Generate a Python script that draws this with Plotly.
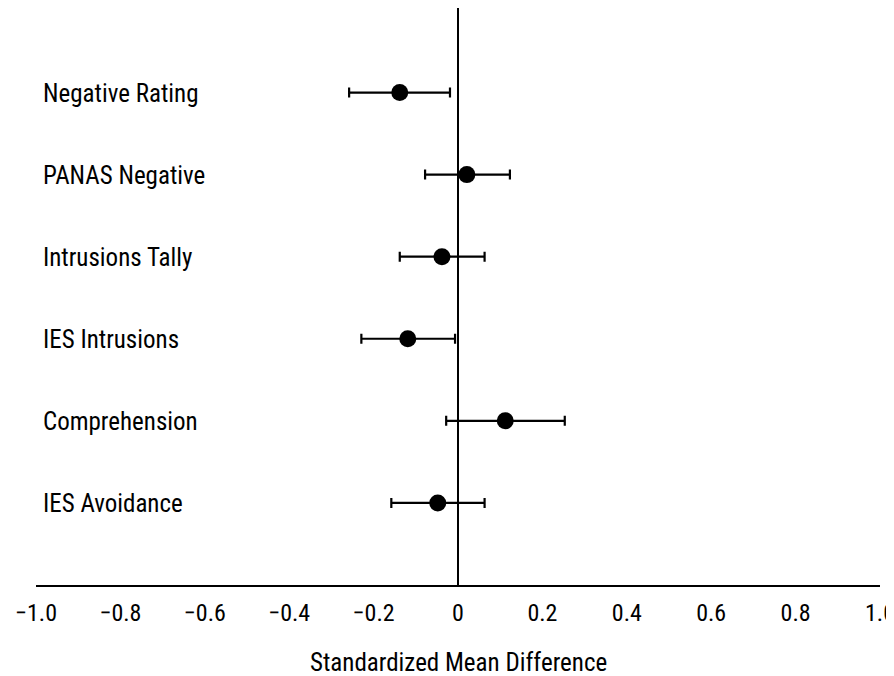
import plotly.graph_objects as go

measures = ["Negative Rating", "PANAS Negative", "Intrusions Tally",
            "IES Intrusions", "Comprehension", "IES Avoidance"]
row_pos = [6, 5, 4, 3, 2, 1]
smd = [-0.138, 0.021, -0.038, -0.119, 0.112, -0.048]
ci_low = [-0.258, -0.078, -0.138, -0.229, -0.028, -0.158]
ci_high = [-0.019, 0.123, 0.063, -0.007, 0.253, 0.063]

tick_vals = [-1.0, -0.8, -0.6, -0.4, -0.2, 0, 0.2, 0.4, 0.6, 0.8, 1.0]
tick_text = ["\u22121.0", "\u22120.8", "\u22120.6", "\u22120.4", "\u22120.2",
             "0", "0.2", "0.4", "0.6", "0.8", "1.0"]

FONT = "Liberation Sans Narrow, Arial Narrow, Roboto Condensed, sans-serif"

err_plus = [h - m for h, m in zip(ci_high, smd)]
err_minus = [m - l for m, l in zip(smd, ci_low)]

fig = go.Figure()
fig.add_trace(go.Scatter(
    x=smd, y=row_pos, mode="markers",
    marker=dict(color="black", size=17),
    error_x=dict(type="data", array=err_plus, arrayminus=err_minus,
                 color="black", thickness=2.2, width=5),
    showlegend=False, hoverinfo="skip",
))

for name, yv in zip(measures, row_pos):
    fig.add_annotation(x=0.006, xref="paper", y=yv, yref="y", text=name,
                       showarrow=False, xanchor="left", yanchor="middle",
                       yshift=-1,
                       font=dict(family=FONT, size=25, color="black"))

fig.add_annotation(x=0.5, xref="paper", y=-0.135, yref="paper",
                   text="Standardized Mean Difference", showarrow=False,
                   xanchor="center", yanchor="middle",
                   font=dict(family=FONT, size=25, color="black"))

fig.update_layout(
    width=886, height=668,
    margin=dict(l=28, r=14, t=0, b=91),
    paper_bgcolor="white", plot_bgcolor="white",
    font=dict(family=FONT, size=24, color="black"),
    xaxis=dict(range=[-1, 1], tickvals=tick_vals, ticktext=tick_text,
               showgrid=False, zeroline=True, zerolinecolor="black",
               zerolinewidth=2, showline=True, linecolor="black",
               linewidth=2, ticks="outside", ticklen=5,
               tickcolor="rgba(0,0,0,0)", ticklabeloverflow="allow",
               tickfont=dict(family=FONT, size=24, color="black")),
    yaxis=dict(range=[0, 7.03], showgrid=False, zeroline=False,
               showticklabels=False, showline=False),
)

fig.write_html("out.html")
